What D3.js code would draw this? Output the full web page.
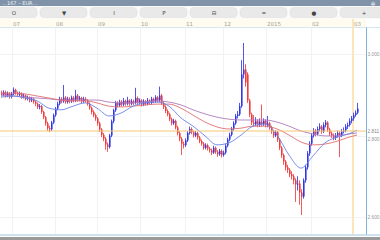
<!DOCTYPE html>
<html><head><meta charset="utf-8">
<script src="https://cdn.jsdelivr.net/npm/d3@7"></script>
<style>html,body{margin:0;padding:0;background:#fff;overflow:hidden}svg{display:block}</style>
</head><body>
<script>
// ---- data (daily candles, index 0..178) ----
const opens = [2.905,2.900,2.906,2.898,2.903,2.895,2.902,2.912,2.905,2.900,2.903,2.895,2.898,2.890,2.893,2.886,2.890,2.883,2.878,2.870,
2.872,2.858,2.845,2.830,2.818,2.815,2.832,2.850,2.866,2.878,2.890,2.884,2.893,2.882,2.890,2.884,2.893,2.886,2.898,2.888,
2.892,2.884,2.890,2.886,2.878,2.868,2.858,2.850,2.842,2.830,2.815,2.802,2.792,2.778,2.772,2.800,2.835,2.862,2.880,2.874,
2.883,2.876,2.885,2.878,2.886,2.878,2.884,2.880,2.892,2.880,2.886,2.876,2.884,2.878,2.886,2.880,2.890,2.884,2.894,2.886,
2.898,2.880,2.870,2.860,2.852,2.840,2.830,2.836,2.820,2.806,2.792,2.780,2.776,2.788,2.806,2.816,2.808,2.800,2.806,2.795,
2.786,2.780,2.770,2.776,2.768,2.764,2.758,2.770,2.760,2.754,2.762,2.752,2.758,2.775,2.790,2.802,2.816,2.830,2.848,2.852,
2.872,2.950,2.962,2.950,2.886,2.852,2.832,2.828,2.835,2.826,2.834,2.828,2.836,2.826,2.830,2.820,2.810,2.800,2.808,2.790,
2.770,2.752,2.736,2.722,2.716,2.705,2.700,2.690,2.680,2.682,2.660,2.650,2.690,2.722,2.756,2.780,2.800,2.812,2.804,2.816,
2.822,2.810,2.826,2.832,2.815,2.805,2.800,2.794,2.800,2.806,2.800,2.810,2.812,2.822,2.826,2.836,2.842,2.850,2.856];
const closes = [2.900,2.906,2.898,2.903,2.895,2.902,2.912,2.905,2.900,2.903,2.895,2.898,2.890,2.893,2.886,2.890,2.883,2.878,2.870,2.872,
2.858,2.845,2.830,2.818,2.815,2.832,2.850,2.866,2.878,2.890,2.884,2.893,2.882,2.890,2.884,2.893,2.886,2.898,2.888,2.892,
2.884,2.890,2.886,2.878,2.868,2.858,2.850,2.842,2.830,2.815,2.802,2.792,2.778,2.772,2.800,2.835,2.862,2.880,2.874,2.883,
2.876,2.885,2.878,2.886,2.878,2.884,2.880,2.892,2.880,2.886,2.876,2.884,2.878,2.886,2.880,2.890,2.884,2.894,2.886,2.898,
2.880,2.870,2.860,2.852,2.840,2.830,2.836,2.820,2.806,2.792,2.780,2.776,2.788,2.806,2.816,2.808,2.800,2.806,2.795,2.786,
2.780,2.770,2.776,2.768,2.764,2.758,2.770,2.760,2.754,2.762,2.752,2.758,2.775,2.790,2.802,2.816,2.830,2.848,2.852,2.872,
2.950,2.962,2.930,2.886,2.852,2.832,2.828,2.835,2.826,2.834,2.828,2.836,2.826,2.830,2.820,2.810,2.800,2.808,2.790,2.770,
2.752,2.736,2.722,2.716,2.705,2.700,2.690,2.680,2.682,2.660,2.650,2.690,2.722,2.756,2.780,2.800,2.812,2.804,2.816,2.822,
2.810,2.826,2.832,2.815,2.805,2.800,2.794,2.800,2.806,2.800,2.810,2.812,2.822,2.826,2.836,2.842,2.850,2.856,2.866];
const highs = [2.910,2.911,2.910,2.908,2.906,2.907,2.918,2.915,2.908,2.908,2.906,2.903,2.901,2.898,2.896,2.895,2.893,2.886,2.881,2.877,
2.875,2.861,2.848,2.834,2.824,2.836,2.854,2.870,2.883,2.895,2.894,2.924,2.897,2.895,2.894,2.898,2.897,2.912,2.902,2.897,
2.895,2.895,2.894,2.889,2.881,2.871,2.862,2.854,2.845,2.834,2.818,2.806,2.796,2.783,2.804,2.839,2.866,2.885,2.884,2.888,
2.887,2.892,2.888,2.895,2.889,2.890,2.888,2.917,2.896,2.891,2.889,2.889,2.887,2.892,2.889,2.895,2.893,2.899,2.897,2.920,
2.902,2.884,2.874,2.864,2.856,2.844,2.841,2.839,2.824,2.810,2.796,2.785,2.793,2.811,2.822,2.820,2.812,2.811,2.809,2.799,
2.790,2.784,2.781,2.780,2.772,2.768,2.775,2.773,2.764,2.767,2.766,2.763,2.780,2.795,2.807,2.821,2.835,2.853,2.860,2.880,
2.985,3.027,2.975,2.955,2.890,2.856,2.850,2.845,2.840,2.842,2.876,2.842,2.840,2.848,2.834,2.824,2.814,2.813,2.811,2.794,
2.774,2.756,2.740,2.728,2.720,2.712,2.705,2.695,2.700,2.690,2.668,2.695,2.728,2.762,2.786,2.806,2.818,2.816,2.822,2.830,
2.826,2.832,2.838,2.835,2.819,2.810,2.805,2.806,2.812,2.810,2.816,2.820,2.828,2.832,2.842,2.848,2.856,2.862,2.880];
const lows = [2.895,2.896,2.893,2.894,2.890,2.891,2.899,2.900,2.895,2.896,2.890,2.891,2.886,2.886,2.881,2.882,2.878,2.872,2.865,2.864,
2.853,2.840,2.824,2.812,2.808,2.811,2.828,2.846,2.862,2.874,2.879,2.880,2.878,2.878,2.879,2.880,2.881,2.882,2.883,2.884,
2.879,2.880,2.881,2.873,2.863,2.852,2.845,2.836,2.824,2.809,2.796,2.786,2.765,2.760,2.768,2.796,2.830,2.858,2.869,2.870,
2.871,2.872,2.873,2.874,2.873,2.874,2.875,2.876,2.875,2.876,2.871,2.872,2.873,2.874,2.875,2.876,2.879,2.880,2.881,2.882,
2.875,2.865,2.855,2.847,2.835,2.825,2.826,2.815,2.800,2.786,2.752,2.768,2.772,2.784,2.802,2.803,2.795,2.796,2.790,2.781,
2.775,2.765,2.766,2.763,2.758,2.752,2.755,2.755,2.748,2.750,2.746,2.748,2.754,2.771,2.786,2.798,2.812,2.826,2.842,2.848,
2.868,2.940,2.920,2.880,2.845,2.826,2.822,2.823,2.820,2.821,2.822,2.823,2.820,2.820,2.814,2.804,2.794,2.796,2.784,2.764,
2.745,2.728,2.714,2.708,2.698,2.692,2.680,2.637,2.665,2.630,2.605,2.645,2.684,2.716,2.750,2.775,2.795,2.798,2.800,2.810,
2.804,2.806,2.820,2.809,2.799,2.794,2.788,2.789,2.795,2.747,2.796,2.805,2.808,2.816,2.822,2.830,2.836,2.846,2.852];

// moving averages read at sampled candle indices
const maIndex = [0,6,12,18,24,30,36,42,48,54,60,66,72,78,84,90,96,102,108,114,120,126,132,138,144,150,156,162,168,174,178];
const maFast = [2.894,2.897,2.892,2.885,2.867,2.863,2.872,2.880,2.867,2.848,2.855,2.872,2.880,2.882,2.872,2.843,2.823,2.799,2.777,2.782,2.801,2.823,2.828,2.801,2.752,2.720,2.750,2.782,2.796,2.804,2.813];
const maMid = [2.904,2.904,2.902,2.897,2.892,2.887,2.885,2.885,2.880,2.872,2.870,2.872,2.875,2.877,2.877,2.867,2.850,2.833,2.821,2.816,2.818,2.823,2.823,2.816,2.801,2.784,2.777,2.779,2.786,2.796,2.801];
const maSlow = [2.899,2.897,2.894,2.892,2.890,2.887,2.887,2.887,2.887,2.882,2.880,2.880,2.882,2.885,2.882,2.875,2.863,2.853,2.845,2.840,2.838,2.838,2.838,2.833,2.823,2.811,2.804,2.799,2.799,2.804,2.806];

const monthLabels = ["07","08","09","10","11","12","2015","02","03"];
const monthIndex = [5.5,27,48,69.5,92,111,132.5,155,176];
const priceTicks = [3.000, 2.800, 2.600];
const cursorPrice = 2.811;
const cursorIndex = 176;
const toolbarIcons = ["O","▼","I","P","⊟","═","●","+"];
const titleText = "…167 – EUR…";

// ---- drawing ----
const W = 380, H = 240;
const svg = d3.select("body").append("svg").attr("width", W).attr("height", H);
const plotTop = 27.5, plotBottom = 234.5, axisX = 366.5;

const x = d3.scaleLinear().domain([0, 178]).range([1, 357]);
const y = d3.scaleLinear().domain([2.600, 3.000]).range([217, 54]);

// title bar
svg.append("rect").attr("x",0).attr("y",0).attr("width",W).attr("height",6).attr("fill","#8193a8");
svg.append("text").attr("x",2).attr("y",5).attr("font-family","DejaVu Sans").attr("font-size",5).attr("fill","#eef2f6").text(titleText);
svg.append("text").attr("x",373).attr("y",5.5).attr("text-anchor","middle").attr("font-family","DejaVu Sans").attr("font-size",6).attr("fill","#eef2f6").text("✲");

// toolbar
svg.append("rect").attr("x",0).attr("y",6).attr("width",W).attr("height",13).attr("fill","#fafafa");
const tb = svg.append("g");
toolbarIcons.forEach((t,k)=>{
  const cx = 14 + k*50;
  tb.append("rect").attr("x",cx-24).attr("y",7.5).attr("width",47).attr("height",10).attr("rx",4)
    .attr("fill","#e9e9e9").attr("stroke","#dcdcdc").attr("stroke-width",0.5);
  tb.append("text").attr("x",cx).attr("y",14.8).attr("text-anchor","middle")
    .attr("font-family","DejaVu Sans").attr("font-size",5.5).attr("fill","#444").text(t);
});

// date row
svg.append("rect").attr("x",0).attr("y",19).attr("width",axisX).attr("height",8.5).attr("fill","#fffbee");
svg.append("line").attr("x1",0).attr("x2",W).attr("y1",plotTop).attr("y2",plotTop).attr("stroke","#d4e6f2").attr("stroke-width",1);

const gGrid = svg.append("g");
monthIndex.forEach((mi,k)=>{
  const gx = Math.round(x(mi)) + 0.5;
  gGrid.append("line").attr("x1",gx).attr("x2",gx).attr("y1",plotTop).attr("y2",plotBottom).attr("stroke","#f2f2f4");
  svg.append("text").attr("x",gx+0.5).attr("y",25.5).attr("font-family","DejaVu Sans").attr("font-size",5.5)
    .attr("fill","#a0a0a0").text(monthLabels[k]);
});
priceTicks.forEach(p=>{
  const gy = Math.round(y(p)) + 0.5;
  gGrid.append("line").attr("x1",0).attr("x2",axisX).attr("y1",gy).attr("y2",gy).attr("stroke","#f2f2f4");
});

// cursor vertical
svg.append("line").attr("x1",x(cursorIndex)).attr("x2",x(cursorIndex)).attr("y1",19).attr("y2",plotBottom)
  .attr("stroke","#fbe6bb").attr("stroke-width",2);

// candles
const idx = d3.range(closes.length);
const gC = svg.append("g");
idx.forEach(i=>{
  const up = closes[i] >= opens[i];
  const col = up ? "#2f36e6" : "#ef3b3b";
  const cx = Math.round(x(i)) + 0.5;
  gC.append("line").attr("x1",cx).attr("x2",cx).attr("y1",y(highs[i])).attr("y2",y(lows[i]))
    .attr("stroke", up ? "#5257e8" : "#f05a5a").attr("stroke-width",1);
  const yt = y(Math.max(opens[i],closes[i])), yb = y(Math.min(opens[i],closes[i]));
  gC.append("rect").attr("x",cx-0.5).attr("y",yt).attr("width",1.6).attr("height",Math.max(1,yb-yt)).attr("fill",col);
});

// moving averages
const line = arr => d3.line().x((d,k)=>x(maIndex[k])).y(d=>y(d)).curve(d3.curveMonotoneX)(arr);
svg.append("path").attr("d",line(maSlow)).attr("fill","none").attr("stroke","#b07cc0").attr("stroke-width",0.9);
svg.append("path").attr("d",line(maMid)).attr("fill","none").attr("stroke","#e07070").attr("stroke-width",0.9);
svg.append("path").attr("d",line(maFast)).attr("fill","none").attr("stroke","#6a84e6").attr("stroke-width",0.9);

// cursor horizontal
svg.append("line").attr("x1",0).attr("x2",axisX).attr("y1",y(cursorPrice)).attr("y2",y(cursorPrice))
  .attr("stroke","#f6c870").attr("stroke-width",1);

// right axis
svg.append("line").attr("x1",axisX).attr("x2",axisX).attr("y1",plotTop).attr("y2",plotBottom).attr("stroke","#7fb2d8");
const axis = d3.axisRight(y).tickValues(priceTicks).tickFormat(d3.format(".3f")).tickSize(0).tickPadding(1);
const ga = svg.append("g").attr("transform",`translate(${axisX},0)`).call(axis);
ga.select(".domain").remove();
ga.selectAll("text").attr("font-family","Liberation Sans").attr("font-size",4.8).attr("fill","#999")
  .attr("dy", d => d===2.800 ? "0.95em" : "0.35em");
svg.append("text").attr("x",axisX+1).attr("y",y(cursorPrice)+1.7).attr("font-family","Liberation Sans").attr("font-size",4.8)
  .attr("fill","#888").text(d3.format(".3f")(cursorPrice));

// bottom
svg.append("line").attr("x1",0).attr("x2",W).attr("y1",plotBottom+0.5).attr("y2",plotBottom+0.5).attr("stroke","#9cc4de");
svg.append("rect").attr("x",0).attr("y",237).attr("width",W).attr("height",3).attr("fill","#9b9b9b");
</script>
</body></html>
